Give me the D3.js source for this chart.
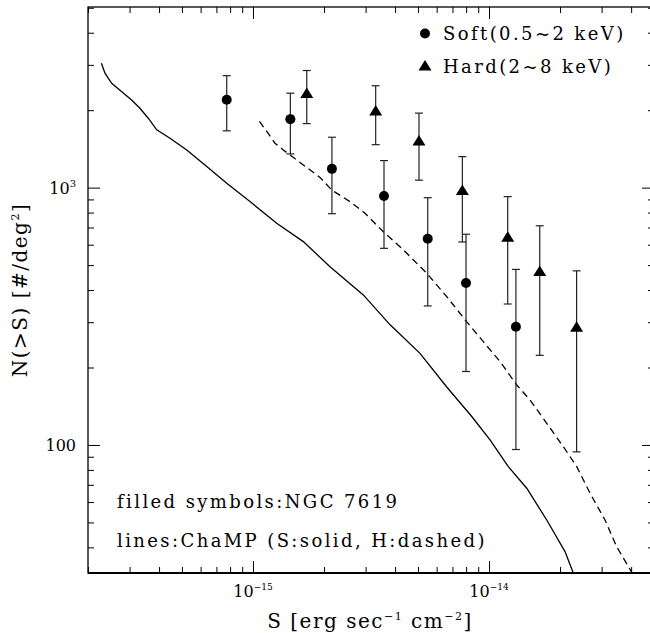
<!DOCTYPE html>
<html>
<head>
<meta charset="utf-8">
<script src="https://cdn.jsdelivr.net/npm/d3@7"></script>
<style>
  body { margin: 0; background: #fff; }
  text { font-family: "DejaVu Serif", serif; fill: #000; }
</style>
</head>
<body>
<svg id="chart" width="650" height="633"></svg>
<script>
// Soft band (0.5~2 keV): flux, N(>S) and error bar ends
const softS = [7.74e-16, 1.44e-15, 2.16e-15, 3.59e-15, 5.50e-15, 7.99e-15, 1.30e-14];
const softN = [2194, 1846, 1183, 928, 633, 426, 288];
const softHi = [2723, 2328, 1570, 1274, 914, 659, 481];
const softLo = [1663, 1352, 792, 581, 347, 193, 96];

// Hard band (2~8 keV)
const hardS = [1.69e-15, 3.31e-15, 5.05e-15, 7.71e-15, 1.20e-14, 1.64e-14, 2.35e-14];
const hardN = [2334, 1993, 1524, 980, 645, 474, 288];
const hardHi = [2852, 2489, 1948, 1320, 923, 711, 475];
const hardLo = [1774, 1469, 1069, 615, 353, 223, 94];

// ChaMP soft curve (solid)
const champSoftS = [2.28e-16, 2.36e-16, 2.52e-16, 2.78e-16, 3.06e-16, 3.32e-16, 3.60e-16,
  3.91e-16, 4.45e-16, 5.24e-16, 6.37e-16, 7.74e-16, 9.71e-16, 1.26e-15, 1.634e-15,
  2.12e-15, 2.934e-15, 3.81e-15, 5.10e-15, 6.62e-15, 8.45e-15, 1.01e-14, 1.207e-14,
  1.445e-14, 1.756e-14, 2.099e-14, 2.275e-14];
const champSoftN = [3045, 2784, 2545, 2361, 2192, 2035, 1861, 1677, 1556, 1401, 1207,
  1040, 883, 727, 617, 493, 383, 293, 227, 168, 129, 104.6, 82.4, 67.9, 51.1, 38.5, 31.8];

// ChaMP hard curve (dashed)
const champHardS = [1.065e-15, 1.152e-15, 1.239e-15, 1.344e-15, 1.532e-15, 1.922e-15,
  2.156e-15, 2.576e-15, 2.983e-15, 3.566e-15, 4.335e-15, 5.445e-15, 6.62e-15, 8.045e-15,
  9.46e-15, 1.113e-14, 1.311e-14, 1.492e-14, 1.756e-14, 2.064e-14, 2.353e-14, 2.679e-14,
  3.10e-14, 3.476e-14, 4.04e-14];
const champHardN = [1808, 1639, 1488, 1401, 1281, 1096, 979, 882, 795, 674, 573, 465,
  377, 301, 252, 211, 171, 149.6, 121.4, 98.5, 82.4, 64.9, 51.1, 40.2, 31.8];

// Tick labels
const xMajorTicks = [1e-15, 1e-14];
const xTickLabels = [['10', '\u221215'], ['10', '\u221214']];
const yMajorTicks = [100, 1000];
const yTickLabels = [['100', ''], ['10', '3']];

const legendLabels = ['Soft(0.5~2 keV)', 'Hard(2~8 keV)'];
const notes = ['filled symbols:NGC 7619', 'lines:ChaMP (S:solid, H:dashed)'];

const margin = { left: 88, top: 7 };
const width = 566;
const height = 566;

const svg = d3.select('#chart');
const g = svg.append('g')
  .attr('transform', `translate(${margin.left},${margin.top})`);

// Scales
const x = d3.scaleLog().domain([2e-16, 5e-14]).range([0, width]);
const y = d3.scaleLog().domain([31.8, 5035]).range([height, 0]);

const xMinor = x.ticks().filter(v => !xMajorTicks.some(m => Math.abs(m - v) / m < 1e-6));
const yMinor = y.ticks().filter(v => !yMajorTicks.some(m => Math.abs(m - v) / m < 1e-6));

// Axes with inward ticks on all four sides
function addAxis(axisFn, scale, values, size, transform) {
  const a = g.append('g')
    .attr('class', 'axis')
    .attr('transform', transform)
    .call(axisFn(scale).tickValues(values).tickSize(size).tickFormat('').tickSizeOuter(0));
  a.select('.domain').remove();
  a.selectAll('line').attr('stroke', '#000').attr('stroke-width', 1);
}

addAxis(d3.axisBottom, x, xMajorTicks, -12, `translate(0,${height})`);
addAxis(d3.axisBottom, x, xMinor, -6, `translate(0,${height})`);
addAxis(d3.axisTop, x, xMajorTicks, -12, 'translate(0,0)');
addAxis(d3.axisTop, x, xMinor, -6, 'translate(0,0)');
addAxis(d3.axisLeft, y, yMajorTicks, -12, 'translate(0,0)');
addAxis(d3.axisLeft, y, yMinor, -6, 'translate(0,0)');
addAxis(d3.axisRight, y, yMajorTicks, -12, `translate(${width},0)`);
addAxis(d3.axisRight, y, yMinor, -6, `translate(${width},0)`);

// Frame
g.append('rect')
  .attr('width', width)
  .attr('height', height)
  .attr('fill', 'none')
  .attr('stroke', '#000')
  .attr('stroke-width', 1.3);
g.append('line')
  .attr('x1', 0).attr('x2', width)
  .attr('y1', height).attr('y2', height)
  .attr('stroke', '#000')
  .attr('stroke-width', 2);

// X tick labels
xMajorTicks.forEach((v, i) => {
  const t = g.append('text')
    .attr('x', x(v))
    .attr('y', height + 24)
    .attr('text-anchor', 'middle')
    .style('font-size', '16px');
  t.append('tspan').text(xTickLabels[i][0]);
  t.append('tspan').attr('dy', -7).style('font-size', '9px').text(xTickLabels[i][1]);
});

// Y tick labels
yMajorTicks.forEach((v, i) => {
  const t = g.append('text')
    .attr('x', -12)
    .attr('y', y(v) + 6)
    .attr('text-anchor', 'end')
    .style('font-size', '16px');
  t.append('tspan').text(yTickLabels[i][0]);
  if (yTickLabels[i][1]) {
    t.append('tspan').attr('dy', -7).style('font-size', '10px').text(yTickLabels[i][1]);
  }
});

// Axis titles
const xTitle = g.append('text')
  .attr('x', width / 2 - 1)
  .attr('y', height + 55)
  .attr('text-anchor', 'middle')
  .style('font-size', '20px')
  .style('letter-spacing', '1.5px');
xTitle.append('tspan').text('S [erg sec');
xTitle.append('tspan').attr('dy', -8).style('font-size', '11px').text('\u22121');
xTitle.append('tspan').attr('dy', 8).text(' cm');
xTitle.append('tspan').attr('dy', -8).style('font-size', '11px').text('\u22122');
xTitle.append('tspan').attr('dy', 8).text(']');

const yTitle = svg.append('text')
  .attr('transform', 'translate(27,290)rotate(-90)')
  .attr('text-anchor', 'middle')
  .style('font-size', '20px')
  .style('letter-spacing', '1.5px');
yTitle.append('tspan').text('N(>S) [#/deg');
yTitle.append('tspan').attr('dy', -8).style('font-size', '11px').text('2');
yTitle.append('tspan').attr('dy', 8).text(']');

// Clip for curves
g.append('clipPath').attr('id', 'plot-clip')
  .append('rect').attr('width', width).attr('height', height);

const line = d3.line().x(d => x(d[0])).y(d => y(d[1]));

g.append('path')
  .datum(d3.zip(champSoftS, champSoftN))
  .attr('clip-path', 'url(#plot-clip)')
  .attr('fill', 'none')
  .attr('stroke', '#000')
  .attr('stroke-width', 1.3)
  .attr('d', line);

g.append('path')
  .datum(d3.zip(champHardS, champHardN))
  .attr('clip-path', 'url(#plot-clip)')
  .attr('fill', 'none')
  .attr('stroke', '#000')
  .attr('stroke-width', 1.3)
  .attr('stroke-dasharray', '7,4.5')
  .attr('d', line);

// Error bars
function errorBars(sArr, loArr, hiArr) {
  const data = d3.zip(sArr, loArr, hiArr);
  const eb = g.append('g').attr('class', 'errbars');
  eb.selectAll('line.v').data(data).enter().append('line')
    .attr('x1', d => x(d[0])).attr('x2', d => x(d[0]))
    .attr('y1', d => y(d[1])).attr('y2', d => y(d[2]))
    .attr('stroke', '#222').attr('stroke-width', 1.2);
  [1, 2].forEach(k => {
    eb.selectAll(`line.c${k}`).data(data).enter().append('line')
      .attr('x1', d => x(d[0]) - 4).attr('x2', d => x(d[0]) + 4)
      .attr('y1', d => y(d[k])).attr('y2', d => y(d[k]))
      .attr('stroke', '#222').attr('stroke-width', 1.2);
  });
}
errorBars(softS, softLo, softHi);
errorBars(hardS, hardLo, hardHi);

const triangle = 'M0,-5.5L6.5,5L-6.5,5Z';

g.selectAll('.soft').data(d3.zip(softS, softN)).enter().append('circle')
  .attr('class', 'soft')
  .attr('cx', d => x(d[0]))
  .attr('cy', d => y(d[1]))
  .attr('r', 5)
  .attr('fill', '#000');

g.selectAll('.hard').data(d3.zip(hardS, hardN)).enter().append('path')
  .attr('class', 'hard')
  .attr('transform', d => `translate(${x(d[0])},${y(d[1])})`)
  .attr('d', triangle)
  .attr('fill', '#000');

// Legend
svg.append('circle').attr('cx', 425).attr('cy', 33.5).attr('r', 5).attr('fill', '#000');
svg.append('path').attr('transform', 'translate(425,65.5)').attr('d', triangle).attr('fill', '#000');
legendLabels.forEach((label, i) => {
  svg.append('text')
    .attr('x', 443)
    .attr('y', 39.5 + i * 33)
    .style('font-size', '18px')
    .style('letter-spacing', '2.4px')
    .text(label);
});

// Notes
notes.forEach((note, i) => {
  svg.append('text')
    .attr('x', 117)
    .attr('y', 508 + i * 39)
    .style('font-size', '18px')
    .style('letter-spacing', '2.4px')
    .text(note);
});
</script>
</body>
</html>
